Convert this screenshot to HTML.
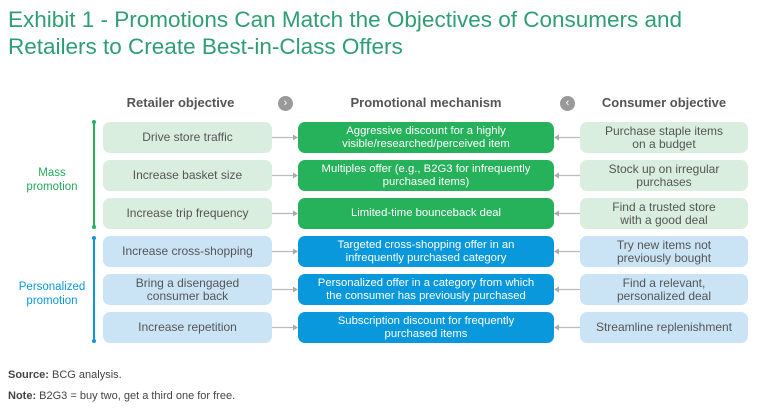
<!DOCTYPE html>
<html><head><meta charset="utf-8"><style>
*{margin:0;padding:0;box-sizing:border-box}
body{width:768px;height:416px;background:#fff;font-family:"Liberation Sans",sans-serif;position:relative;overflow:hidden}
.t{position:absolute;left:8px;top:6px;font-size:22.5px;line-height:27px;color:#2f9e72}
.h{position:absolute;top:95px;font-size:13px;font-weight:bold;color:#555;text-align:center}
.b{position:absolute;height:31px;border-radius:7px;display:flex;align-items:center;justify-content:center;text-align:center;font-size:12px;line-height:13px}
.l{left:103px;width:169px}.m{left:298px;width:256px;color:#fff;font-size:11.3px}.r{left:580px;width:168px}
.g1{background:#d9eede;color:#555}.g2{background:#25b25a}
.b1{background:#cae4f6;color:#555}.b2{background:#0a98dc}
.sd{position:absolute;font-size:11px;color:#444;left:8px}
</style></head><body>
<div class="t">Exhibit 1 - Promotions Can Match the Objectives of Consumers and<br>Retailers to Create Best-in-Class Offers</div>
<div class="h" style="left:96px;width:169px">Retailer objective</div>
<div class="h" style="left:298px;width:256px">Promotional mechanism</div>
<div class="h" style="left:580px;width:168px">Consumer objective</div>
<div style="position:absolute;left:278px;top:96px;width:15px;height:15px;border-radius:50%;background:#999;color:#fff;font-size:11px;line-height:15px;text-align:center">›</div>
<div style="position:absolute;left:560px;top:96px;width:15px;height:15px;border-radius:50%;background:#999;color:#fff;font-size:11px;line-height:15px;text-align:center">‹</div>
<div style="position:absolute;left:93px;top:122px;width:2px;height:105px;background:#25b25a"></div>
<div style="position:absolute;left:92px;top:120px;width:4px;height:4px;border-radius:50%;background:#25b25a"></div>
<div style="position:absolute;left:92px;top:225px;width:4px;height:4px;border-radius:50%;background:#25b25a"></div>
<div style="position:absolute;left:93px;top:238px;width:2px;height:103px;background:#0a98dc"></div>
<div style="position:absolute;left:92px;top:236px;width:4px;height:4px;border-radius:50%;background:#0a98dc"></div>
<div style="position:absolute;left:92px;top:339px;width:4px;height:4px;border-radius:50%;background:#0a98dc"></div>
<div style="position:absolute;left:10px;top:166px;width:84px;text-align:center;font-size:11.5px;line-height:14px;color:#25a85a">Mass<br>promotion</div>
<div style="position:absolute;left:10px;top:280px;width:84px;text-align:center;font-size:11.5px;line-height:14px;color:#0a98dc">Personalized<br>promotion</div>

<div class="b l g1" style="top:122px">Drive store traffic</div>
<div class="b m g2" style="top:122px">Aggressive discount for a highly<br>visible/researched/perceived item</div>
<div class="b r g1" style="top:122px">Purchase staple items<br>on a budget</div>
<div class="b l g1" style="top:160px">Increase basket size</div>
<div class="b m g2" style="top:160px">Multiples offer (e.g., B2G3 for infrequently<br>purchased items)</div>
<div class="b r g1" style="top:160px">Stock up on irregular<br>purchases</div>
<div class="b l g1" style="top:198px">Increase trip frequency</div>
<div class="b m g2" style="top:198px">Limited-time bounceback deal</div>
<div class="b r g1" style="top:198px">Find a trusted store<br>with a good deal</div>
<div class="b l b1" style="top:236px">Increase cross-shopping</div>
<div class="b m b2" style="top:236px">Targeted cross-shopping offer in an<br>infrequently purchased category</div>
<div class="b r b1" style="top:236px">Try new items not<br>previously bought</div>
<div class="b l b1" style="top:274px">Bring a disengaged<br>consumer back</div>
<div class="b m b2" style="top:274px">Personalized offer in a category from which<br>the consumer has previously purchased</div>
<div class="b r b1" style="top:274px">Find a relevant,<br>personalized deal</div>
<div class="b l b1" style="top:312px">Increase repetition</div>
<div class="b m b2" style="top:312px">Subscription discount for frequently<br>purchased items</div>
<div class="b r b1" style="top:312px">Streamline replenishment</div>

<svg style="position:absolute;left:0;top:0" width="768" height="416">
<g stroke="#bbb" stroke-width="1.2" fill="#aaa">
<path d="M272 137.5H294M272 175.5H294M272 213.5H294M272 251.5H294M272 289.5H294M272 327.5H294"/>
<path d="M580 137.5H558M580 175.5H558M580 213.5H558M580 251.5H558M580 289.5H558M580 327.5H558"/>
</g>
<g fill="#aaa">
<path d="M298 137.5l-5-3v6zM298 175.5l-5-3v6zM298 213.5l-5-3v6zM298 251.5l-5-3v6zM298 289.5l-5-3v6zM298 327.5l-5-3v6z"/>
<path d="M554 137.5l5-3v6zM554 175.5l5-3v6zM554 213.5l5-3v6zM554 251.5l5-3v6zM554 289.5l5-3v6zM554 327.5l5-3v6z"/>
</g>
</svg>
<div class="sd" style="top:369px"><b>Source:</b> BCG analysis.</div>
<div class="sd" style="top:390px"><b>Note:</b> B2G3 = buy two, get a third one for free.</div>
</body></html>
